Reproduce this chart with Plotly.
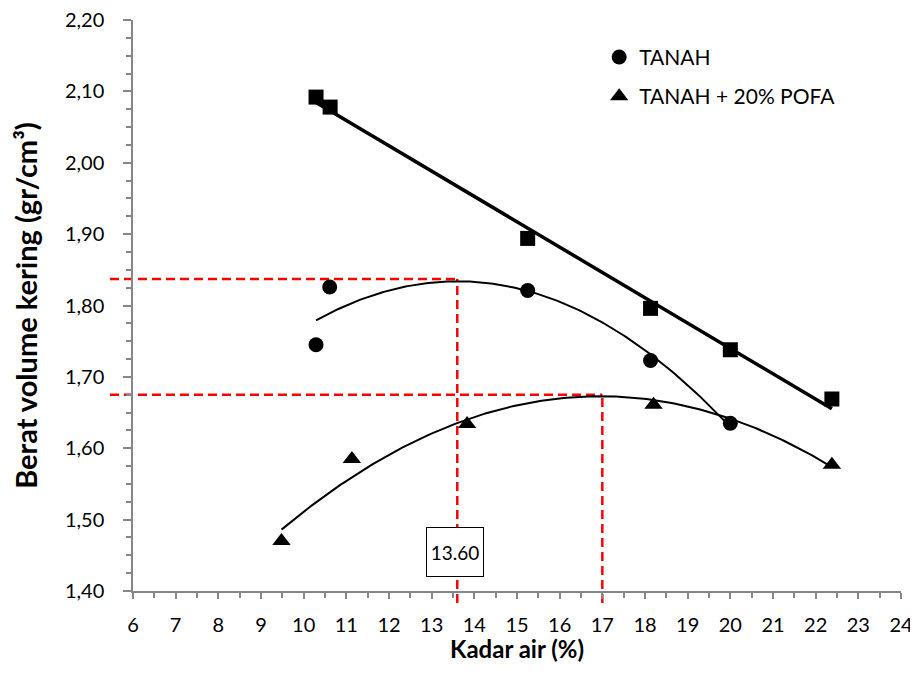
import numpy as np
import plotly.graph_objects as go

# ---- data ----
tanah_x = [10.29, 10.61, 15.25, 18.13, 20.00]
tanah_y = [1.745, 1.826, 1.821, 1.723, 1.635]

pofa_x = [9.48, 11.13, 13.83, 18.20, 22.38]
pofa_y = [1.470, 1.585, 1.634, 1.661, 1.577]

zav_x = [10.29, 10.62, 15.25, 18.13, 20.00, 22.38]
zav_y = [2.092, 2.078, 1.894, 1.796, 1.738, 1.669]

opt_x = [13.60, 17.00]          # optimum water content markers
opt_y = [1.837, 1.675]          # max dry density markers
opt_label = "13.60"

x_ticks = list(range(6, 25))
y_ticks = [1.40, 1.50, 1.60, 1.70, 1.80, 1.90, 2.00, 2.10, 2.20]

X_RANGE = [6, 24]
Y_RANGE = [1.40, 2.20]

FONT = "Lato"
AXIS_COLOR = "#868686"

fig = go.Figure()

def trend(xs, ys, deg):
    c = np.polyfit(xs, ys, deg)
    xx = np.linspace(min(xs), max(xs), 200)
    return xx, np.polyval(c, xx)

# trendlines
tx, ty = trend(zav_x, zav_y, 1)
fig.add_trace(go.Scatter(x=tx, y=ty, mode="lines", line=dict(color="black", width=3.5),
                         showlegend=False, hoverinfo="skip"))
tx, ty = trend(tanah_x, tanah_y, 2)
fig.add_trace(go.Scatter(x=tx, y=ty, mode="lines", line=dict(color="black", width=2),
                         showlegend=False, hoverinfo="skip"))
tx, ty = trend(pofa_x, pofa_y, 2)
fig.add_trace(go.Scatter(x=tx, y=ty, mode="lines", line=dict(color="black", width=2),
                         showlegend=False, hoverinfo="skip"))

# markers
fig.add_trace(go.Scatter(x=zav_x, y=zav_y, mode="markers",
                         marker=dict(symbol="square", size=15, color="black"),
                         showlegend=False))
fig.add_trace(go.Scatter(x=tanah_x, y=tanah_y, mode="markers", name="TANAH",
                         legendgroup="a",
                         marker=dict(symbol="circle", size=15, color="black")))
fig.add_trace(go.Scatter(x=pofa_x, y=pofa_y, mode="markers", name="TANAH + 20% POFA",
                         legendgroup="b",
                         marker=dict(symbol="triangle-up", size=16, color="black")))

# red dashed guide lines
xspan = X_RANGE[1] - X_RANGE[0]
yspan = Y_RANGE[1] - Y_RANGE[0]
red = dict(color="#FF0000", width=2.5, dash="9px,5px")
for ox, oy in zip(opt_x, opt_y):
    fig.add_shape(type="line", xref="x domain", yref="y",
                  x0=-0.03, x1=(ox - X_RANGE[0]) / xspan, y0=oy, y1=oy,
                  line=red, layer="below")
    fig.add_shape(type="line", xref="x", yref="y domain",
                  x0=ox, x1=ox, y0=-0.021, y1=(oy - Y_RANGE[0]) / yspan,
                  line=red, layer="below")

fig.add_annotation(x=opt_x[0], y=1.455, xref="x", yref="y", text=opt_label,
                   showarrow=False, xshift=-2,
                   font=dict(family=FONT, size=19, color="black"),
                   bgcolor="white", bordercolor="black", borderwidth=1,
                   width=54, height=46)

# x-axis title
fig.add_annotation(x=0.5, y=-0.1, xref="paper", yref="paper",
                   xanchor="center", yanchor="middle", showarrow=False,
                   text="<b>Kadar air (%)</b>",
                   font=dict(family=FONT, size=24, color="black"))

# page body adds an 8px margin, so the figure is 8px smaller than the window
fig.update_layout(
    width=910, height=680,
    margin=dict(l=125, r=17, t=12, b=97, autoexpand=False),
    paper_bgcolor="white", plot_bgcolor="white",
    separators=",.",
    font=dict(family=FONT, size=20, color="black"),
    showlegend=True,
    legend=dict(x=0.607, y=0.9705, xanchor="left", yanchor="top",
                font=dict(family=FONT, size=21, color="black"),
                bgcolor="rgba(0,0,0,0)", tracegroupgap=9),
)

fig.update_xaxes(
    range=X_RANGE, tickvals=x_ticks, ticktext=[str(v) for v in x_ticks],
    showgrid=False, zeroline=False, automargin=False, ticklabeloverflow="allow",
    showline=True, linecolor=AXIS_COLOR, linewidth=1.5,
    ticks="outside", ticklen=6, tickwidth=1.5, tickcolor=AXIS_COLOR,
    minor=dict(dtick=0.5, ticks="outside", ticklen=5, tickwidth=1.5, tickcolor=AXIS_COLOR),
    tickfont=dict(family=FONT, size=20),
    ticklabelstandoff=9,
)
fig.update_yaxes(
    range=Y_RANGE, tickvals=y_ticks, tickformat=".2f",
    showgrid=False, zeroline=False, automargin=False, ticklabeloverflow="allow",
    showline=True, linecolor=AXIS_COLOR, linewidth=1.5,
    ticks="outside", ticklen=8, tickwidth=1.5, tickcolor=AXIS_COLOR,
    minor=dict(dtick=0.025, ticks="outside", ticklen=5, tickwidth=1.5, tickcolor=AXIS_COLOR),
    tickfont=dict(family=FONT, size=20),
    ticklabelstandoff=15,
    title=dict(text="<b>Berat volume kering (gr/cm³)</b>", font=dict(family=FONT, size=29), standoff=29),
)

fig.write_html("out.html")
